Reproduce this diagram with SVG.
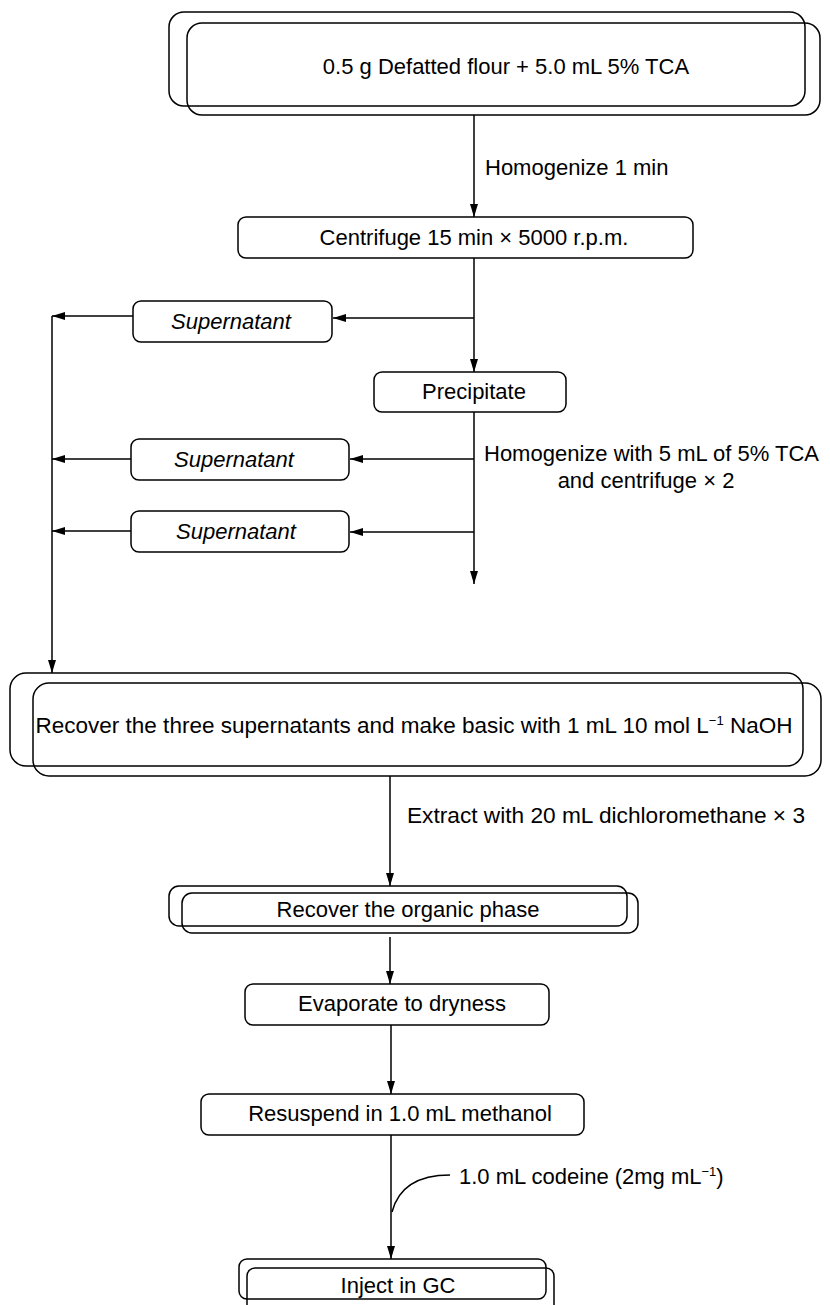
<svg xmlns="http://www.w3.org/2000/svg" width="830" height="1305" viewBox="0 0 830 1305">
<defs>
<marker id="ah" markerWidth="13" markerHeight="8" refX="13" refY="4" orient="auto" markerUnits="userSpaceOnUse">
<path d="M0,0 L13,4 L0,8 z" fill="#000"/>
</marker>
<style>
.b{fill:none;stroke:#000;stroke-width:1.5}
.t{font-family:"Liberation Sans",Arial,Helvetica,sans-serif;font-size:22px;fill:#000}
.m{text-anchor:middle}
.i{font-style:italic}
.c{fill:none;stroke:#000;stroke-width:1.5}
</style>
</defs>
<rect width="830" height="1305" fill="#fff"/>

<g id="connectors">
<path class="c" d="M474,115 V217" marker-end="url(#ah)"/>
<path class="c" d="M474,258 V372" marker-end="url(#ah)"/>
<path class="c" d="M474,318 H333" marker-end="url(#ah)"/>
<path class="c" d="M133,316 H52" marker-end="url(#ah)"/>
<path class="c" d="M52,316 V673" marker-end="url(#ah)"/>
<path class="c" d="M474,412 V584" marker-end="url(#ah)"/>
<path class="c" d="M474,459 H350" marker-end="url(#ah)"/>
<path class="c" d="M131,459 H52" marker-end="url(#ah)"/>
<path class="c" d="M474,532 H350" marker-end="url(#ah)"/>
<path class="c" d="M131,531 H52" marker-end="url(#ah)"/>
<path class="c" d="M390,776 V886" marker-end="url(#ah)"/>
<path class="c" d="M390,937 V984" marker-end="url(#ah)"/>
<path class="c" d="M391,1025 V1094" marker-end="url(#ah)"/>
<path class="c" d="M391,1135 V1259" marker-end="url(#ah)"/>
<path class="c" d="M392,1212 C398,1189 416,1175 450,1175"/>
<text class="t" x="485" y="175">Homogenize 1 min</text>
<text class="t" x="484" y="461">Homogenize with 5 mL of 5% TCA</text>
<text class="t m" x="646" y="488">and centrifuge × 2</text>
<text class="t" x="407" y="823" textLength="398" lengthAdjust="spacingAndGlyphs">Extract with 20 mL dichloromethane × 3</text>
<text class="t" x="459" y="1184">1.0 mL codeine (2mg mL<tspan font-size="13" dy="-8">−1</tspan><tspan dy="8">)</tspan></text>
</g>

<g id="start">
<rect class="b" x="169" y="12" width="636" height="94" rx="15"/>
<rect class="b" x="187" y="23" width="633" height="92" rx="15"/>
<text class="t m" x="506" y="74">0.5 g Defatted flour + 5.0 mL 5% TCA</text>
</g>

<g id="centrifuge">
<rect class="b" x="238" y="217" width="455" height="41" rx="8"/>
<text class="t m" x="474" y="245">Centrifuge 15 min × 5000 r.p.m.</text>
</g>

<g id="supernatant1">
<rect class="b" x="133" y="301" width="199" height="41" rx="8"/>
<text class="t m i" x="231" y="329">Supernatant</text>
</g>

<g id="precipitate">
<rect class="b" x="374" y="372" width="192" height="40" rx="8"/>
<text class="t m" x="474" y="399">Precipitate</text>
</g>

<g id="supernatant2">
<rect class="b" x="131" y="439" width="218" height="41" rx="8"/>
<text class="t m i" x="234" y="467">Supernatant</text>
</g>

<g id="supernatant3">
<rect class="b" x="131" y="511" width="218" height="41" rx="8"/>
<text class="t m i" x="236" y="539">Supernatant</text>
</g>

<g id="recover">
<rect class="b" x="10" y="673" width="793" height="93" rx="16"/>
<rect class="b" x="33" y="683" width="788" height="93" rx="16"/>
<text class="t m" x="414" y="733" style="font-size:22.5px">Recover the three supernatants and make basic with 1 mL 10 mol L<tspan font-size="13" dy="-8">−1</tspan><tspan dy="8"> NaOH</tspan></text>
</g>

<g id="organic">
<rect class="b" x="169" y="886" width="458" height="40" rx="10"/>
<rect class="b" x="182" y="893" width="456" height="40" rx="10"/>
<text class="t m" x="408" y="917">Recover the organic phase</text>
</g>

<g id="evaporate">
<rect class="b" x="245" y="984" width="304" height="41" rx="8"/>
<text class="t m" x="402" y="1011">Evaporate to dryness</text>
</g>

<g id="resuspend">
<rect class="b" x="201" y="1094" width="383" height="41" rx="8"/>
<text class="t m" x="400" y="1121">Resuspend in 1.0 mL methanol</text>
</g>

<g id="inject">
<rect class="b" x="239" y="1259" width="307" height="40" rx="8"/>
<rect class="b" x="247" y="1268" width="307" height="50" rx="8"/>
<text class="t m" x="398" y="1293">Inject in GC</text>
</g>
</svg>
